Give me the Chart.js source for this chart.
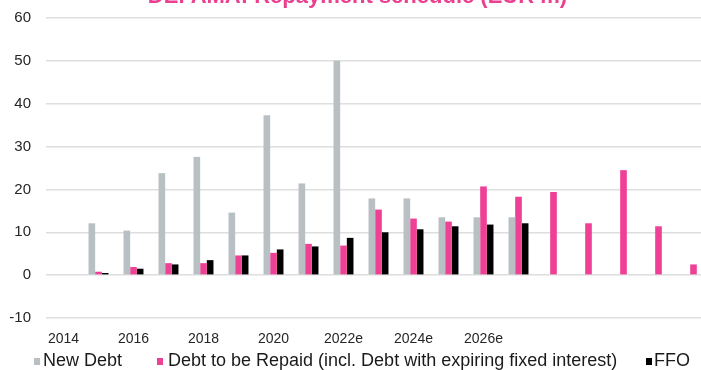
<!DOCTYPE html>
<html>
<head>
<meta charset="utf-8">
<script src="https://cdn.jsdelivr.net/npm/chart.js@4"></script>
<style>
  html, body { margin:0; padding:0; background:#fff; overflow:hidden; }
  #wrap { position:relative; width:701px; height:370px; overflow:hidden; }
  #chart { position:absolute; left:0; top:-20px; }
</style>
</head>
<body>
<div id="wrap"><canvas id="chart" width="715" height="390"></canvas></div>
<script>
const years = ["2014","2015","2016","2017","2018","2019","2020","2021","2022e","2023e","2024e","2025e","2026e","2027e","2028e","2029e","2030e","2031e","2032e"];
const xTickLabels = ["2014","","2016","","2018","","2020","","2022e","","2024e","","2026e","","","","","",""];
const newDebt = [null,12.1,10.4,23.8,27.6,14.6,37.3,21.4,50.0,17.9,17.9,13.5,13.5,13.5,null,null,null,null,null];
const repaid  = [null,0.8,1.9,2.8,2.8,4.6,5.2,7.3,6.9,15.3,13.2,12.5,20.7,18.3,19.4,12.1,24.5,11.4,2.5];
const ffo     = [null,0.5,1.5,2.5,3.5,4.6,6.0,6.7,8.7,10.0,10.7,11.4,11.8,12.1,null,null,null,null,null];
const yTicks  = [-10,0,10,20,30,40,50,60];

const seriesNames = ["New Debt","Debt to be Repaid (incl. Debt with expiring fixed interest)","FFO"];
const seriesColors = ["#B8C0C4","#EE4196","#000000"];
const title = "DEFAMA: Repayment schedule (EUR m)";

const tickFont = "'Liberation Sans', Arial, sans-serif";

// title + legend drawn by hand, the original legend has uneven gaps
const decor = {
  id: "decor",
  afterDraw(chart){
    const ctx = chart.ctx;
    ctx.save();
    ctx.fillStyle = "#EB3F90";
    ctx.font = "bold 22px 'Liberation Sans', Arial, sans-serif";
    ctx.textAlign = "center";
    ctx.textBaseline = "alphabetic";
    ctx.fillText(title, chart.width/2, 23);

    const items = [{box:34, text:43}, {box:157, text:168}, {box:646, text:654}];
    ctx.font = "18px 'Liberation Sans', Arial, sans-serif";
    ctx.textAlign = "left";
    items.forEach((it,i) => {
      ctx.fillStyle = seriesColors[i];
      ctx.fillRect(it.box, 378, 6, 7);
      ctx.fillStyle = "#1a1a1a";
      ctx.fillText(seriesNames[i], it.text, 386);
    });
    ctx.restore();
  }
};

new Chart(document.getElementById("chart").getContext("2d"), {
  type: "bar",
  data: {
    labels: years,
    datasets: [newDebt, repaid, ffo].map((d,i) => ({
      label: seriesNames[i], data: d, backgroundColor: seriesColors[i],
      categoryPercentage: 0.57, barPercentage: 1.0, borderWidth: 0
    }))
  },
  options: {
    responsive: false,
    animation: false,
    layout: { padding: { top: 38, right: 4, bottom: 0, left: 0 } },
    plugins: { legend: { display: false }, title: { display: false }, tooltip: { enabled: false } },
    scales: {
      x: {
        grid: { display: false },
        border: { display: false },
        ticks: {
          autoSkip: false, maxRotation: 0, padding: 5, color: "#262626",
          font: { family: tickFont, size: 14 },
          callback: (v, i) => xTickLabels[i]
        },
        afterFit: s => { s.height = 52; }
      },
      y: {
        min: -10, max: 60,
        grid: { color: "#dedede", lineWidth: 1.5, drawTicks: false },
        border: { display: false },
        afterBuildTicks: s => { s.ticks = yTicks.map(v => ({ value: v })); },
        ticks: { padding: 15, color: "#262626", font: { family: tickFont, size: 15 } },
        afterFit: s => { s.width = 46; }
      }
    }
  },
  plugins: [decor]
});
</script>
</body>
</html>
